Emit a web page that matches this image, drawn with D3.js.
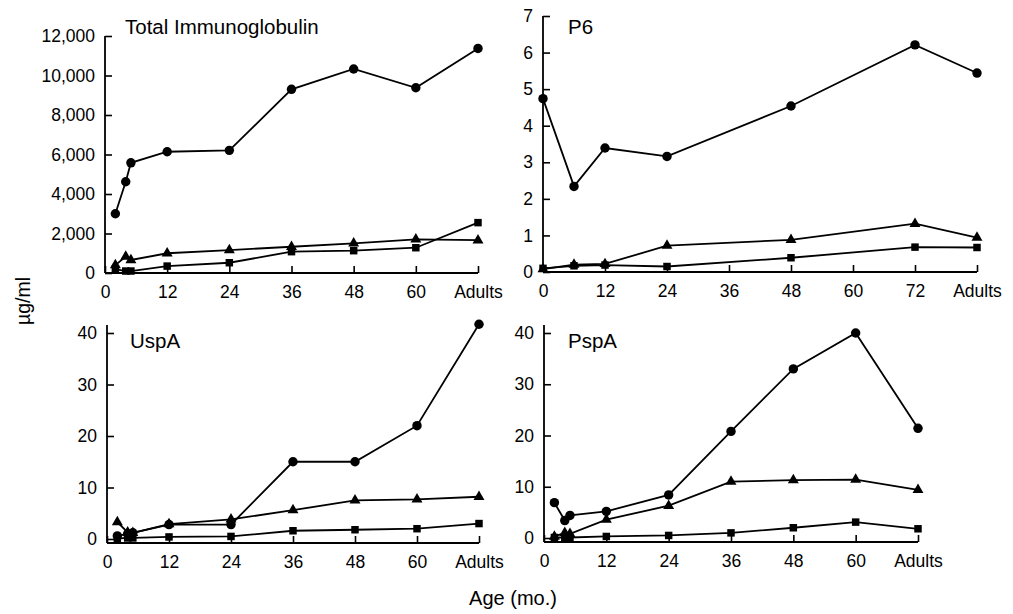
<!DOCTYPE html>
<html>
<head>
<meta charset="utf-8">
<script src="https://cdn.jsdelivr.net/npm/d3@7"></script>
<style>
  body { margin: 0; background: #fff; }
  svg { display: block; font-family: "Liberation Sans", Arial, Helvetica, sans-serif; }
</style>
</head>
<body>
<svg id="chart" width="1013" height="614"></svg>
<script>
'use strict';

// Total immunoglobulin (ug/ml)
const totalMonths = [2, 4, 5, 12, 24, 36, 48, 60, 'Adults'];
const totalCircle = [3000, 4620, 5580, 6140, 6210, 9300, 10330, 9380, 11370];
const totalTriangle = [400, 830, 660, 1000, 1160, 1330, 1500, 1700, 1660];
const totalSquare = [200, 100, 100, 350, 520, 1080, 1130, 1280, 2550];
const totalTicks = [0, 2000, 4000, 6000, 8000, 10000, 12000];
const totalAgeTicks = [0, 12, 24, 36, 48, 60, 'Adults'];

// P6
const p6Months = [0, 6, 12, 24, 48, 72, 'Adults'];
const p6Circle = [4.74, 2.34, 3.39, 3.16, 4.54, 6.21, 5.44];
const p6Triangle = [0.08, 0.2, 0.22, 0.72, 0.88, 1.32, 0.94];
const p6Square = [0.1, 0.17, 0.19, 0.15, 0.39, 0.68, 0.67];
const p6Ticks = [0, 1, 2, 3, 4, 5, 6, 7];
const p6AgeTicks = [0, 12, 24, 36, 48, 60, 72, 'Adults'];

// UspA
const uspMonths = [2, 4, 5, 12, 24, 36, 48, 60, 'Adults'];
const uspCircle = [0.6, 1.0, 1.2, 2.8, 2.8, 15.0, 15.0, 22.0, 41.7];
const uspTriangle = [3.3, 1.3, 1.2, 2.9, 3.8, 5.6, 7.5, 7.7, 8.2];
const uspSquare = [0.1, 0.2, 0.2, 0.4, 0.5, 1.6, 1.8, 2.0, 3.0];
const uspTicks = [0, 10, 20, 30, 40];
const uspAgeTicks = [0, 12, 24, 36, 48, 60, 'Adults'];

// PspA
const pspMonths = [2, 4, 5, 12, 24, 36, 48, 60, 'Adults'];
const pspCircle = [6.9, 3.4, 4.4, 5.2, 8.4, 20.8, 33.0, 40.0, 21.4];
const pspTriangle = [0.3, 1.0, 0.8, 3.6, 6.3, 11.0, 11.3, 11.4, 9.4];
const pspSquare = [0.1, 0.1, 0.1, 0.3, 0.5, 1.0, 2.0, 3.1, 1.8];
const pspTicks = [0, 10, 20, 30, 40];
const pspAgeTicks = [0, 12, 24, 36, 48, 60, 'Adults'];

const svg = d3.select('#chart');

/**
 * draw one panel
 */
function drawPanel(p) {
  // 'Adults' sits one step (12 mo.) past the last numeric tick
  const lastNum = d3.max(p.ageTicks.filter((t) => t !== 'Adults'));
  const adultsAt = lastNum + 12;
  const toX = (m) => m === 'Adults' ? adultsAt : m;

  const x = d3.scaleLinear().domain([0, adultsAt]).range([p.left, p.right]);
  const y = d3.scaleLinear().domain([0, d3.max(p.yTicks)]).range([p.zeroY, p.topTickY]);
  const axisY = p.zeroY + p.axisDrop;

  const g = svg.append('g');

  // x axis
  const xAxis = d3.axisBottom(x)
      .tickValues(p.ageTicks.map(toX))
      .tickFormat((d) => d === adultsAt ? 'Adults' : d)
      .tickSizeInner(-7)
      .tickSizeOuter(0)
      .tickPadding(13);
  const gx = g.append('g')
      .attr('transform', 'translate(0,' + axisY + ')')
      .call(xAxis);
  gx.select('.domain').remove();
  gx.selectAll('line').attr('stroke', '#000').attr('stroke-width', 1.6);
  gx.selectAll('text').attr('font-size', 17.5).attr('fill', '#000');

  // y axis
  const yAxis = d3.axisLeft(y)
      .tickValues(p.yTicks)
      .tickFormat(p.format)
      .tickSizeInner(-7)
      .tickSizeOuter(0)
      .tickPadding(10);
  const gy = g.append('g')
      .attr('transform', 'translate(' + p.left + ',0)')
      .call(yAxis);
  gy.select('.domain').remove();
  gy.selectAll('line').attr('stroke', '#000').attr('stroke-width', 1.6);
  gy.selectAll('text').attr('font-size', 17.5).attr('fill', '#000');

  // axis lines
  g.append('line')
      .attr('x1', p.left).attr('x2', p.left)
      .attr('y1', axisY).attr('y2', p.axisTop)
      .attr('stroke', '#000').attr('stroke-width', 1.8);
  g.append('line')
      .attr('x1', p.left).attr('x2', p.right)
      .attr('y1', axisY).attr('y2', axisY)
      .attr('stroke', '#000').attr('stroke-width', 1.8);

  // title
  g.append('text')
      .attr('x', p.titleX)
      .attr('y', p.titleY)
      .attr('font-size', 20.5)
      .attr('fill', '#000')
      .text(p.title);

  const line = d3.line()
      .x((d) => x(toX(d.m)))
      .y((d) => y(d.v));

  p.series.forEach((s) => {
    const pts = p.months.map((m, i) => ({ m: m, v: s.values[i] }));
    g.append('path')
        .datum(pts)
        .attr('fill', 'none')
        .attr('stroke', '#000')
        .attr('stroke-width', 1.8)
        .attr('d', line);
    const sym = d3.symbol().type(s.type).size(s.size);
    g.selectAll(null)
        .data(pts)
        .enter().append('path')
        .attr('transform', (d) => 'translate(' + x(toX(d.m)) + ',' + y(d.v) + ')')
        .attr('fill', '#000')
        .attr('d', sym);
  });
}

const circleS = { type: d3.symbolCircle, size: 70 };
const triS = { type: d3.symbolTriangle, size: 52 };
const sqS = { type: d3.symbolSquare, size: 56 };

const mk = (shape, values) => Object.assign({ values: values }, shape);

drawPanel({
  title: 'Total Immunoglobulin', titleX: 125, titleY: 34,
  months: totalMonths, ageTicks: totalAgeTicks, yTicks: totalTicks, format: d3.format(','),
  series: [mk(circleS, totalCircle), mk(triS, totalTriangle), mk(sqS, totalSquare)],
  left: 105, right: 478, zeroY: 273, topTickY: 36, axisTop: 36, axisDrop: 0
});

drawPanel({
  title: 'P6', titleX: 568, titleY: 34,
  months: p6Months, ageTicks: p6AgeTicks, yTicks: p6Ticks, format: d3.format('d'),
  series: [mk(circleS, p6Circle), mk(triS, p6Triangle), mk(sqS, p6Square)],
  left: 543, right: 977, zeroY: 272, topTickY: 16, axisTop: 16, axisDrop: 0
});

drawPanel({
  title: 'UspA', titleX: 130, titleY: 348,
  months: uspMonths, ageTicks: uspAgeTicks, yTicks: uspTicks, format: d3.format('d'),
  series: [mk(circleS, uspCircle), mk(triS, uspTriangle), mk(sqS, uspSquare)],
  left: 107, right: 479, zeroY: 539, topTickY: 333, axisTop: 325, axisDrop: 4
});

drawPanel({
  title: 'PspA', titleX: 568, titleY: 348,
  months: pspMonths, ageTicks: pspAgeTicks, yTicks: pspTicks, format: d3.format('d'),
  series: [mk(circleS, pspCircle), mk(triS, pspTriangle), mk(sqS, pspSquare)],
  left: 544, right: 918, zeroY: 538, topTickY: 333, axisTop: 325, axisDrop: 4
});

// shared axis titles
svg.append('text')
    .attr('transform', 'translate(30,301) rotate(-90)')
    .attr('text-anchor', 'middle')
    .attr('font-size', 19.5)
    .attr('fill', '#000')
    .text('µg/ml');

svg.append('text')
    .attr('x', 513)
    .attr('y', 605)
    .attr('text-anchor', 'middle')
    .attr('font-size', 20)
    .attr('fill', '#000')
    .text('Age (mo.)');
</script>
</body>
</html>
